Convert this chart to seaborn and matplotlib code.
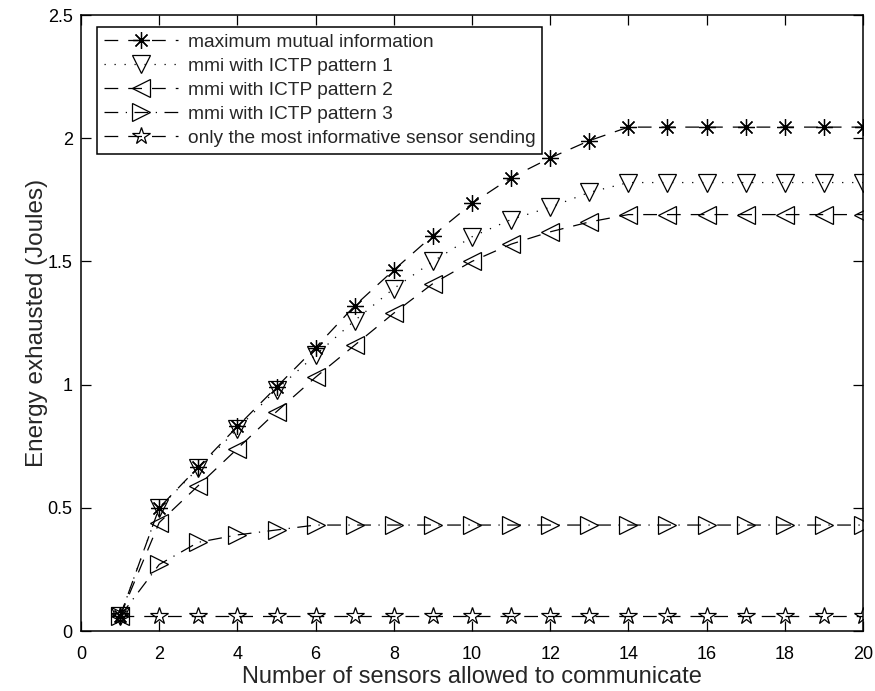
import numpy as np
import pandas as pd
import matplotlib
matplotlib.use("Agg")
import matplotlib.pyplot as plt
import seaborn as sns

sensors = list(range(1, 21))
max_mi = [0.06, 0.50, 0.665, 0.83, 0.99, 1.15, 1.32, 1.465, 1.605, 1.735, 1.84, 1.92, 1.99,
          2.045, 2.045, 2.045, 2.045, 2.045, 2.045, 2.045]
ictp1 = [0.06, 0.50, 0.66, 0.82, 0.98, 1.12, 1.26, 1.39, 1.50, 1.60, 1.67, 1.72, 1.78,
         1.82, 1.82, 1.82, 1.82, 1.82, 1.82, 1.82]
ictp2 = [0.06, 0.44, 0.59, 0.74, 0.89, 1.03, 1.16, 1.29, 1.41, 1.50, 1.57, 1.62, 1.66,
         1.69, 1.69, 1.69, 1.69, 1.69, 1.69, 1.69]
ictp3 = [0.06, 0.27, 0.36, 0.39, 0.41, 0.43, 0.43, 0.43, 0.43, 0.43, 0.43, 0.43, 0.43,
         0.43, 0.43, 0.43, 0.43, 0.43, 0.43, 0.43]
single = [0.06] * 20

labels = ["maximum mutual information", "mmi with ICTP pattern 1", "mmi with ICTP pattern 2",
          "mmi with ICTP pattern 3", "only the most informative sensor sending"]
series = [max_mi, ictp1, ictp2, ictp3, single]

sns.set_theme(style="white")
plt.rcParams['font.family'] = ['Liberation Sans', 'DejaVu Sans']

fig = plt.figure(figsize=(8.75, 6.91), dpi=100)
ax = fig.add_axes([81 / 875, 60 / 691, 782 / 875, 616 / 691])

styles = [
    dict(marker=(8, 2, 0), linestyle=(0, (11, 8)), markersize=12),
    dict(marker='v', linestyle=(0, (1, 7)), markersize=13),
    dict(marker='<', linestyle=(0, (11, 8)), markersize=13),
    dict(marker='>', linestyle=(0, (11, 6, 1, 6)), markersize=13),
    dict(marker='*', linestyle=(0, (11, 8)), markersize=13),
]

for lab, vals, st in zip(labels, series, styles):
    df = pd.DataFrame({"x": sensors, "y": vals})
    sns.lineplot(data=df, x="x", y="y", ax=ax, color='black', linewidth=0.9,
                 markerfacecolor='none', markeredgecolor='black', markeredgewidth=0.9,
                 label=lab, **st)

ax.set_xlim(0, 20)
ax.set_ylim(0, 2.5)
ax.set_xticks(np.arange(0, 21, 2))
ax.set_yticks(np.arange(0, 2.51, 0.5))
ax.set_yticklabels(["0", "0.5", "1", "1.5", "2", "2.5"])
ax.tick_params(direction='in', length=7, width=0.9, top=True, right=True,
               bottom=True, left=True, labelsize=13, colors='black')
ax.tick_params(axis='x', pad=11)
ax.tick_params(axis='y', pad=6)
for sp in ax.spines.values():
    sp.set_color('black')
    sp.set_linewidth(1.1)
ax.set_xlabel("Number of sensors allowed to communicate", fontsize=17, labelpad=2)
ax.set_ylabel("Energy exhausted (Joules)", fontsize=17.5, labelpad=0)

leg = ax.legend(loc='upper left', bbox_to_anchor=(16 / 782, 1 - 12 / 616), fontsize=13.8,
                frameon=True, fancybox=False, edgecolor='black', framealpha=1,
                handlelength=3.9, borderpad=0.35, labelspacing=0.34, handletextpad=0.5,
                borderaxespad=0.0)
leg.get_frame().set_linewidth(1.1)

fig.savefig("out.png", dpi=100)
